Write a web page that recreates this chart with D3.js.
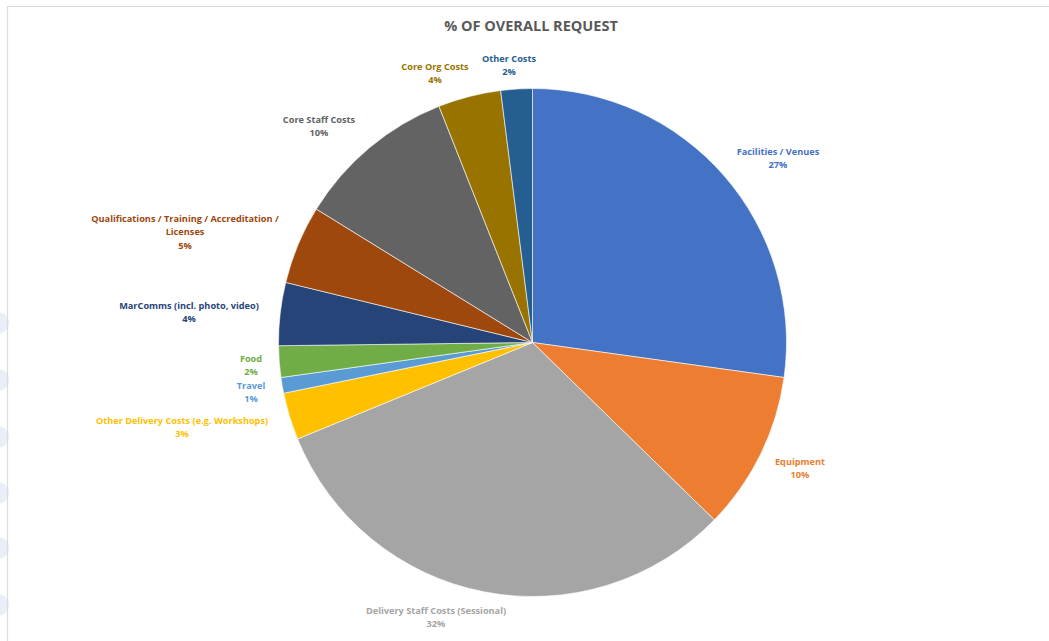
<!DOCTYPE html>
<html><head><meta charset="utf-8">
<script src="https://cdn.jsdelivr.net/npm/d3@7"></script>
<style>
html,body{margin:0;padding:0;background:#fff;}
svg{display:block;}
</style></head>
<body>
<svg id="chart" width="1049" height="641"></svg>
<script>
const categories = ["Facilities / Venues","Equipment","Delivery Staff Costs (Sessional)","Other Delivery Costs (e.g. Workshops)","Travel","Food","MarComms (incl. photo, video)","Qualifications / Training / Accreditation / Licenses","Core Staff Costs","Core Org Costs","Other Costs"];
const values = [27.2, 10.1, 31.5, 3.0, 1.0, 2.0, 4.0, 5.0, 10.2, 4.0, 2.0];
const colors = ["#4472C4","#ED7D31","#A5A5A5","#FFC000","#5B9BD5","#70AD47","#264478","#9E480E","#636363","#997300","#255E91"];
// label layout (text lines and anchor centre of each label block)
const labelLines = [["Facilities / Venues"],["Equipment"],["Delivery Staff Costs (Sessional)"],["Other Delivery Costs (e.g. Workshops)"],["Travel"],["Food"],["MarComms (incl. photo, video)"],["Qualifications / Training / Accreditation /","Licenses"],["Core Staff Costs"],["Core Org Costs"],["Other Costs"]];
const labelPos = [[778,151],[800,461],[436,610],[182,420],[251,385],[251,358],[189,305],[185,218],[319,119],[435,66],[509,58]];

const svg = d3.select("#chart");
const W = 1049, H = 641;

// frame / decorations
svg.append("g").selectAll("circle").data([323,380,437,493,548,605]).join("circle")
  .attr("cx", -2).attr("cy", d=>d).attr("r", 11).attr("fill", "#e9eff7");
svg.append("line").attr("x1",7.5).attr("x2",W).attr("y1",6.5).attr("y2",6.5).attr("stroke","#dcdcdc").attr("stroke-width",1.2);
svg.append("line").attr("x1",7.5).attr("x2",7.5).attr("y1",6.5).attr("y2",H).attr("stroke","#dcdcdc").attr("stroke-width",1.2);

svg.append("text").attr("x",531).attr("y",31).attr("text-anchor","middle")
  .attr("font-family","Open Sans, Liberation Sans, sans-serif").attr("font-weight","bold")
  .attr("font-size",14.5).attr("fill","#595959").text("% OF OVERALL REQUEST");

const cx = 532.5, cy = 342.5, R = 254;
const total = d3.sum(values);
const pie = d3.pie().sort(null).value(d=>d);
const arc = d3.arc().innerRadius(0).outerRadius(R);
const arcs = pie(values);
const g = svg.append("g").attr("transform",`translate(${cx},${cy})`);
g.selectAll("path").data(arcs).join("path")
  .attr("d", arc).attr("fill",(d,i)=>colors[i]).attr("stroke","#fff").attr("stroke-width",0.6);

const fmt = d3.format(".0%");
const lg = svg.append("g").attr("font-family","Open Sans, Liberation Sans, sans-serif")
  .attr("font-weight","bold").attr("font-size",9.2).attr("text-anchor","middle");
categories.forEach((c,i)=>{
  const lines = labelLines[i].concat([fmt(values[i]/total)]);
  const t = lg.append("text").attr("fill",colors[i]).attr("x",labelPos[i][0]).attr("y",labelPos[i][1]+3.5);
  lines.forEach((l,j)=>{
    t.append("tspan").attr("x",labelPos[i][0]).attr("dy", j===0?0:13.5).text(l);
  });
});
</script>
</body></html>
